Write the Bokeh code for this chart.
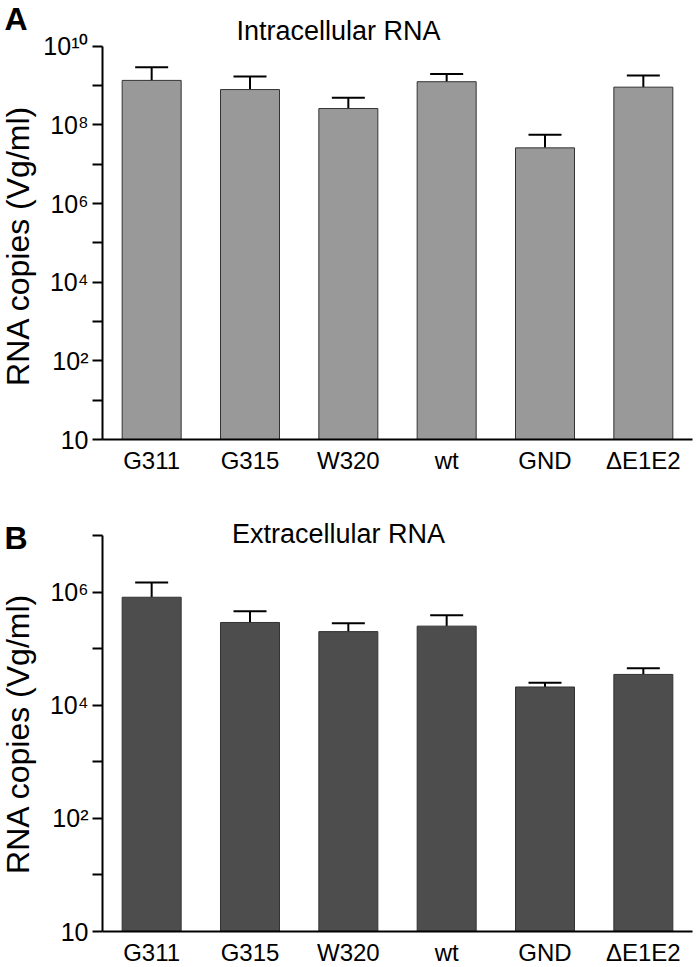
import math
from bokeh.plotting import figure
from bokeh.models import (Range1d, FixedTicker, ColumnDataSource,
                          Whisker, TeeHead, Label)
from bokeh.layouts import column
from bokeh.embed import file_html
from bokeh.resources import INLINE

# ---------------- data ----------------
categories = ["G311", "G315", "W320", "wt", "GND", "\u0394E1E2"]

intra_mean = [1.35e9, 7.9e8, 2.6e8, 1.25e9, 2.6e7, 9.1e8]
intra_upper = [2.9e9, 1.7e9, 4.9e8, 1.95e9, 5.6e7, 1.8e9]

extra_mean = [8.1e5, 2.9e5, 2.0e5, 2.5e5, 2.1e4, 3.5e4]
extra_upper = [1.48e6, 4.6e5, 2.8e5, 3.9e5, 2.5e4, 4.5e4]

ticks_a = [1, 10, 100, 1e3, 1e4, 1e5, 1e6, 1e7, 1e8, 1e9, 1e10]
labels_a = ["10", "", "10\u00b2", "", "10\u2074", "", "10\u2076", "", "10\u2078", "", "10\u00b9\u2070"]
ticks_b = [1, 10, 100, 1e3, 1e4, 1e5, 1e6, 1e7]
labels_b = ["10", "", "10\u00b2", "", "10\u2074", "", "10\u2076", ""]

FONT = "Liberation Sans"
FIG_W = 700
AX_LEFT, AX_RIGHT = 102, 692   # pixel columns of the plot area
TITLE_SHIFT = 13               # empirical lift of titles
LETTER_SHIFT = 11              # empirical lift of panel letters
YLAB_SHIFT = 3                 # empirical lift of the y-axis titles


def overrides(ticks, labels):
    d = {}
    for t, l in zip(ticks, labels):
        d[float(t)] = l
        d[str(t) if isinstance(t, float) and not float(t).is_integer() else str(int(t))] = l
    return d


def panel(letter, title, means, uppers, ticks, labels, fill, H, py_top, py_bottom,
          title_base, letter_base, ylab_center):
    n = len(categories)
    xs = [i + 0.5 for i in range(n)]
    ymax = ticks[-1]
    ppu = (AX_RIGHT - AX_LEFT) / n
    x_start = -AX_LEFT / ppu
    x_end = n + (FIG_W - AX_RIGHT) / ppu
    dec = (py_bottom - py_top) / math.log10(ymax)
    log_hi = math.log10(ymax) + py_top / dec
    log_lo = -(H - py_bottom) / dec

    p = figure(width=FIG_W, height=H,
               x_range=Range1d(x_start, x_end),
               y_range=Range1d(10 ** log_lo, 10 ** log_hi),
               y_axis_type="log", output_backend="svg",
               toolbar_location=None, tools="")
    p.min_border_left = 0
    p.min_border_right = 0
    p.min_border_top = 0
    p.min_border_bottom = 0
    p.outline_line_color = None
    p.xgrid.grid_line_color = None
    p.ygrid.grid_line_color = None
    p.background_fill_color = "white"
    p.border_fill_color = "white"

    src = ColumnDataSource(dict(x=xs, mean=means, upper=uppers))
    p.vbar(x="x", top="mean", bottom=1, width=0.6, source=src,
           fill_color=fill, line_color="#333333", line_width=1)

    w = Whisker(base="x", lower="mean", upper="upper", source=src,
                dimension="height", line_color="black", line_width=2,
                upper_head=TeeHead(size=33, line_color="black", line_width=2),
                lower_head=None)
    p.add_layout(w)

    # y axis (log)
    ya = p.yaxis[0]
    ya.fixed_location = 0
    ya.bounds = (1, ymax)
    ya.ticker = FixedTicker(ticks=ticks, minor_ticks=[])
    ya.major_label_overrides = overrides(ticks, labels)
    ya.axis_line_width = 2
    ya.axis_line_color = "black"
    ya.major_tick_line_width = 2
    ya.major_tick_line_color = "black"
    ya.major_tick_out = 10
    ya.major_tick_in = 0
    ya.minor_tick_line_color = None
    ya.major_label_standoff = 4
    ya.major_label_text_font = FONT
    ya.major_label_text_font_size = "25px"
    ya.major_label_text_color = "black"

    # x axis (categories)
    xa = p.xaxis[0]
    xa.fixed_location = 1
    xa.bounds = (0, n)
    xa.ticker = FixedTicker(ticks=xs, minor_ticks=[])
    xa.major_label_overrides = overrides(xs, categories)
    xa.axis_line_width = 2
    xa.axis_line_color = "black"
    xa.major_tick_line_color = None
    xa.major_tick_out = 0
    xa.major_tick_in = 0
    xa.minor_tick_line_color = None
    xa.major_label_standoff = 7
    xa.major_label_text_font = FONT
    xa.major_label_text_font_size = "24px"
    xa.major_label_text_color = "black"

    # title, panel letter, y label (screen units measured from bottom-left)
    p.add_layout(Label(x=338, y=H - title_base + TITLE_SHIFT, x_units="screen",
                       y_units="screen", text=title, text_font=FONT,
                       text_font_size="27px", text_align="center",
                       text_baseline="alphabetic", text_color="black"))
    p.add_layout(Label(x=4, y=H - letter_base + LETTER_SHIFT, x_units="screen",
                       y_units="screen", text=letter, text_font=FONT,
                       text_font_size="32px", text_font_style="bold",
                       text_align="left", text_baseline="alphabetic",
                       text_color="black"))
    p.add_layout(Label(x=17, y=H - ylab_center + YLAB_SHIFT, x_units="screen",
                       y_units="screen", text="RNA copies (Vg/ml)", text_font=FONT,
                       text_font_size="32px", angle=math.pi / 2,
                       text_align="center", text_baseline="middle",
                       text_color="black"))
    return p


pa = panel("A", "Intracellular RNA", intra_mean, intra_upper, ticks_a, labels_a,
           "#999999", 480, 45.7, 439, 43.5, 29, 248)
pb = panel("B", "Extracellular RNA", extra_mean, extra_upper, ticks_b, labels_b,
           "#4d4d4d", 487, 55.0, 451, 66.5, 68, 256)

layout = column(pa, pb, spacing=0)
open("out.html", "w").write(file_html(layout, INLINE))
